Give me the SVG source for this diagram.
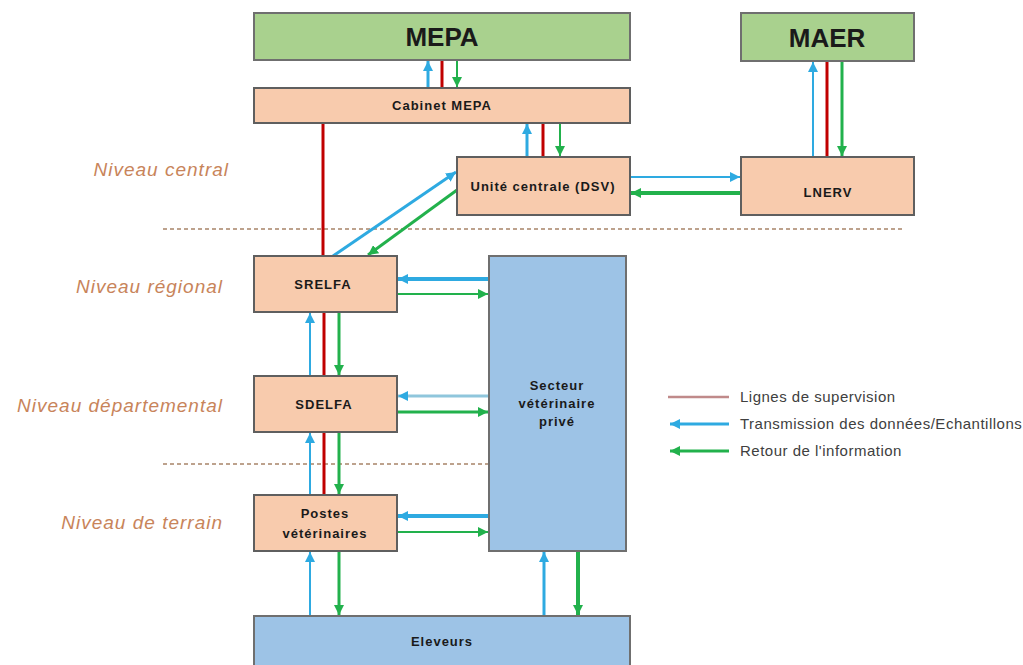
<svg xmlns="http://www.w3.org/2000/svg" width="1023" height="665" viewBox="0 0 1023 665">
<style>
.g{fill:#a9d18e;stroke:#6f6f6f;stroke-width:2}
.p{fill:#f8cbad;stroke:#5f5f5f;stroke-width:2}
.b{fill:#9dc3e6;stroke:#6f6f6f;stroke-width:2}
.t{font-family:"Liberation Sans",Arial,sans-serif;font-weight:bold;fill:#1a1a1a;text-anchor:middle}
.s{font-size:13px;letter-spacing:1px}
.lv{font-family:"Liberation Sans",Arial,sans-serif;font-style:italic;font-size:19px;letter-spacing:1px;fill:#c8845a;text-anchor:end}
.lg{font-family:"Liberation Sans",Arial,sans-serif;font-size:15px;letter-spacing:0.5px;fill:#404040}
.bl{stroke:#2eaae1;fill:none}
.gr{stroke:#22b14c;fill:none}
.rd{stroke:#c00000;fill:none;stroke-width:3}
.ds{stroke:#a88468;stroke-width:1.5;stroke-dasharray:4 3;fill:none}
</style>
<defs>
<marker id="ab" markerUnits="userSpaceOnUse" markerWidth="12" markerHeight="10" refX="10" refY="5" orient="auto"><path d="M0,0 L10,5 L0,10 Z" fill="#2eaae1"/></marker>
<marker id="ag" markerUnits="userSpaceOnUse" markerWidth="12" markerHeight="10" refX="10" refY="5" orient="auto"><path d="M0,0 L10,5 L0,10 Z" fill="#22b14c"/></marker>
</defs>
<rect width="1023" height="665" fill="#ffffff"/>
<g id="levels">
<text class="lv" x="229" y="176">Niveau central</text>
<text class="lv" x="223" y="293">Niveau régional</text>
<text class="lv" x="223" y="412">Niveau départemental</text>
<text class="lv" x="223" y="529">Niveau de terrain</text>
<line class="ds" x1="163" y1="229" x2="905" y2="229"/>
<line class="ds" x1="163" y1="464" x2="489" y2="464"/>
</g>
<g id="connectors">
<line class="bl" stroke-width="3" x1="428" y1="88" x2="428" y2="61" marker-end="url(#ab)"/>
<line class="rd" x1="442" y1="88" x2="442" y2="60"/>
<line class="gr" stroke-width="2" x1="457" y1="60" x2="457" y2="87" marker-end="url(#ag)"/>
<line class="bl" stroke-width="3" x1="527" y1="157" x2="527" y2="124" marker-end="url(#ab)"/>
<line class="rd" x1="543" y1="157" x2="543" y2="123"/>
<line class="gr" stroke-width="2" x1="560" y1="123" x2="560" y2="156" marker-end="url(#ag)"/>
<line class="rd" x1="323" y1="123" x2="323" y2="256"/>
<line class="bl" stroke-width="3" x1="333" y1="256" x2="456" y2="172" marker-end="url(#ab)"/>
<line class="gr" stroke-width="3" x1="457" y1="190" x2="368" y2="255" marker-end="url(#ag)"/>
<line class="bl" stroke-width="2" x1="630" y1="177" x2="740" y2="177" marker-end="url(#ab)"/>
<line class="gr" stroke-width="4" x1="741" y1="193" x2="631" y2="193" marker-end="url(#ag)"/>
<line class="bl" stroke-width="2" x1="813" y1="157" x2="813" y2="62" marker-end="url(#ab)"/>
<line class="rd" x1="827" y1="157" x2="827" y2="61"/>
<line class="gr" stroke-width="3" x1="842" y1="61" x2="842" y2="156" marker-end="url(#ag)"/>
<line class="bl" stroke-width="4" x1="489" y1="279" x2="398" y2="279" marker-end="url(#ab)"/>
<line class="gr" stroke-width="2" x1="397" y1="294" x2="488" y2="294" marker-end="url(#ag)"/>
<line class="bl" stroke-width="2" x1="310" y1="376" x2="310" y2="313" marker-end="url(#ab)"/>
<line class="rd" x1="324" y1="312" x2="324" y2="376"/>
<line class="gr" stroke-width="3" x1="339" y1="312" x2="339" y2="375" marker-end="url(#ag)"/>
<line stroke="#8fc6dc" stroke-width="3" x1="489" y1="396" x2="398" y2="396" marker-end="url(#ab)"/>
<line class="gr" stroke-width="3" x1="397" y1="412" x2="488" y2="412" marker-end="url(#ag)"/>
<line class="bl" stroke-width="2" x1="310" y1="495" x2="310" y2="433" marker-end="url(#ab)"/>
<line class="rd" x1="324" y1="432" x2="324" y2="495"/>
<line class="gr" stroke-width="3" x1="339" y1="432" x2="339" y2="494" marker-end="url(#ag)"/>
<line class="bl" stroke-width="4" x1="489" y1="516" x2="398" y2="516" marker-end="url(#ab)"/>
<line class="gr" stroke-width="2" x1="397" y1="532" x2="488" y2="532" marker-end="url(#ag)"/>
<line class="bl" stroke-width="2" x1="310" y1="616" x2="310" y2="552" marker-end="url(#ab)"/>
<line class="gr" stroke-width="3" x1="339" y1="551" x2="339" y2="615" marker-end="url(#ag)"/>
<line class="bl" stroke-width="3" x1="544" y1="616" x2="544" y2="552" marker-end="url(#ab)"/>
<line class="gr" stroke-width="4" x1="578" y1="551" x2="578" y2="615" marker-end="url(#ag)"/>
</g>
<g id="mepa"><rect class="g" x="254" y="13" width="376" height="47"/><text class="t" x="442" y="46" font-size="26">MEPA</text></g>
<g id="maer"><rect class="g" x="741" y="13" width="173" height="48"/><text class="t" x="827" y="47" font-size="26">MAER</text></g>
<g id="cabinet"><rect class="p" x="254" y="88" width="376" height="35"/><text class="t s" x="442" y="110">Cabinet MEPA</text></g>
<g id="unite"><rect class="p" x="457" y="157" width="173" height="58"/><text class="t s" x="543" y="191">Unité centrale (DSV)</text></g>
<g id="lnerv"><rect class="p" x="741" y="157" width="173" height="58"/><text class="t s" x="828" y="197">LNERV</text></g>
<g id="srelfa"><rect class="p" x="254" y="256" width="143" height="56"/><text class="t s" x="323" y="289">SRELFA</text></g>
<g id="sdelfa"><rect class="p" x="254" y="376" width="143" height="56"/><text class="t s" x="324" y="409">SDELFA</text></g>
<g id="postes"><rect class="p" x="254" y="495" width="143" height="56"/><text class="t s" x="325" y="518">Postes</text><text class="t s" x="325" y="538">vétérinaires</text></g>
<g id="secteur"><rect class="b" x="489" y="256" width="137" height="295"/><text class="t s" x="557" y="390">Secteur</text><text class="t s" x="557" y="408">vétérinaire</text><text class="t s" x="557" y="426">privé</text></g>
<g id="eleveurs"><rect class="b" x="254" y="616" width="376" height="52"/><text class="t s" x="442" y="646">Eleveurs</text></g>
<g id="legend">
<line stroke="#c08a8a" stroke-width="2.5" x1="668" y1="397" x2="729" y2="397"/>
<text class="lg" x="740" y="402">Lignes de supervision</text>
<line class="bl" stroke-width="3" x1="729" y1="424" x2="670" y2="424" marker-end="url(#ab)"/>
<text class="lg" x="740" y="429">Transmission des données/Echantillons</text>
<line class="gr" stroke-width="3" x1="729" y1="451" x2="670" y2="451" marker-end="url(#ag)"/>
<text class="lg" x="740" y="456">Retour de l'information</text>
</g>
</svg>
